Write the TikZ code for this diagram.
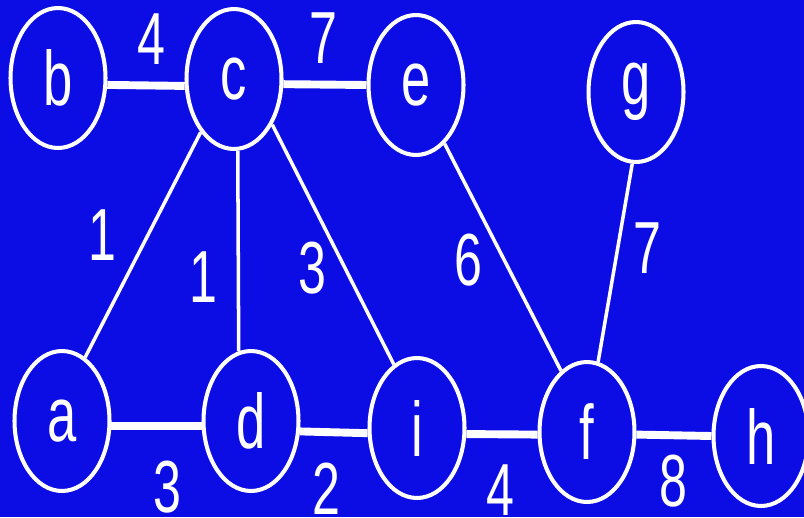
\documentclass[tikz,border=0pt]{standalone}
\usepackage{fontspec}
\newfontfamily\graphfont[FakeStretch=0.68]{Liberation Sans}
\usetikzlibrary{shapes.geometric}
\definecolor{slideblue}{RGB}{12,12,228}
\tikzset{
  vert/.style  = {ellipse,draw=white,line width=2.3pt,minimum width=1.9cm,
                  minimum height=2.8cm,inner sep=0pt,text=white,
                  font=\graphfont\fontsize{44}{44}\selectfont},
  wt/.style    = {text=white,inner sep=0pt,font=\graphfont\fontsize{42}{42}\selectfont},
  hedge/.style = {white,line width=4.5pt},
  dedge/.style = {white,line width=2pt}
}

\begin{document}
\begin{tikzpicture}[x=0.02cm,y=-0.02cm]
  \fill[slideblue] (0,0) rectangle (804,517);
  \useasboundingbox (0,0) rectangle (804,517);
  \node[vert] (b) at (58,78)   {b};
  \node[vert] (c) at (234,79)  {c};
  \node[vert] (e) at (416,85)  {e};
  \node[vert] (g) at (636,92)  {g};
  \node[vert] (a) at (62,421)  {a};
  \node[vert] (d) at (251,421) {d};
  \node[vert] (i) at (417,428) {i};
  \node[vert] (f) at (587,432) {f};
  \node[vert] (h) at (761,436) {h};
  \draw[hedge] (b.-8)   -- (c.188);
  \draw[hedge] (c.-6)   -- (e.180);
  \draw[hedge] (a.-6)   -- (d.186);
  \draw[hedge] (d.-12)  -- (i.186);
  \draw[hedge] (i.-7)   -- (f.183);
  \draw[hedge] (f.-3)   -- (h.180);
  \draw[dedge] (c.-122) -- (a.70);
  \draw[dedge] (c.-87)  -- (d.100);
  \draw[dedge] (c.-50)  -- (i.110);
  \draw[dedge] (e.-64)  -- (f.113);
  \draw[dedge] (g.-93)  -- (f.81);
  \node[wt] (wbc) at (151,39)  {4};
  \node[wt] (wce) at (323,38)  {7};
  \node[wt] (wca) at (102,235) {1};
  \node[wt] (wcd) at (203,277) {1};
  \node[wt] (wci) at (312,268) {3};
  \node[wt] (wef) at (468,260) {6};
  \node[wt] (wgf) at (647,248) {7};
  \node[wt] (wad) at (167,487) {3};
  \node[wt] (wdi) at (326,489) {2};
  \node[wt] (wif) at (500,490) {4};
  \node[wt] (wfh) at (673,481) {8};
\end{tikzpicture}
\end{document}
